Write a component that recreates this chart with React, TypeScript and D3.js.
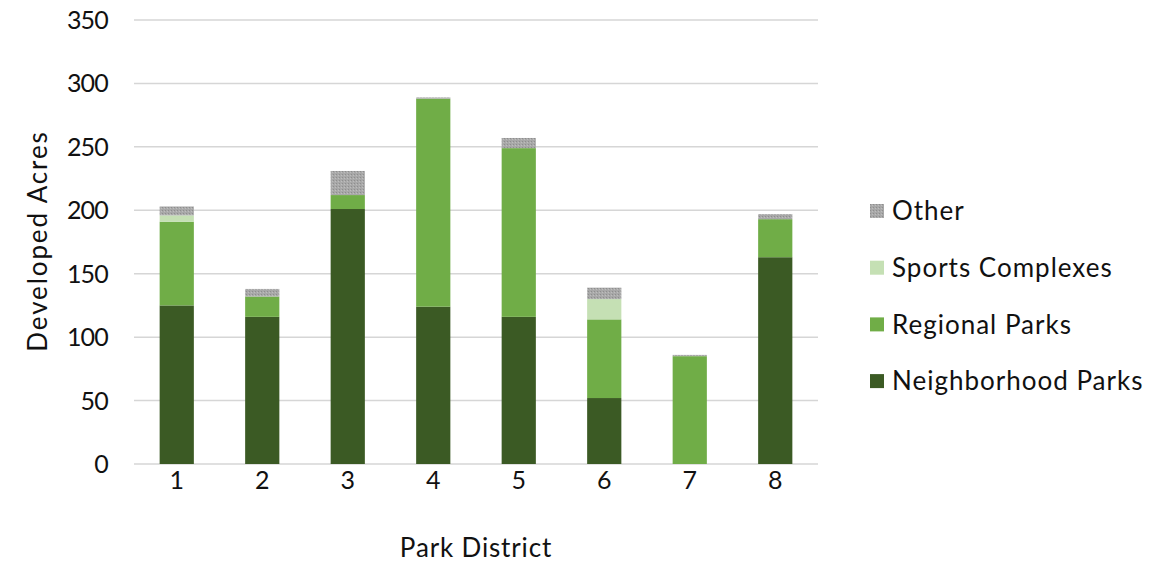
import React from "react";
import * as d3 from "d3";

const districts = ["1", "2", "3", "4", "5", "6", "7", "8"];
const neighborhood = [125, 116, 201, 124, 116, 52, 0, 163];
const regional = [66, 16, 11, 164, 133, 62, 85, 30];
const sports = [5, 0, 0, 0, 0, 16, 0, 0];
const other = [7, 6, 19, 1, 8, 9, 1, 4];
const seriesNames = ["Neighborhood Parks", "Regional Parks", "Sports Complexes", "Other"];
const seriesColors = ["#3B5A24", "#70AD47", "#C5E0B4", "#A5A5A5"];
const yTicks = [0, 50, 100, 150, 200, 250, 300, 350];

const W = 1153;
const H = 563;
const left = 134;
const right = 818;
const top = 20;
const bottom = 464;
const FONT = "'Lato', 'Open Sans', sans-serif";

export default function App() {
  const x = d3.scaleBand<string>().domain(districts).range([left, right]).paddingInner(0.6).paddingOuter(0.3);
  const y = d3.scaleLinear().domain([0, 350]).range([bottom, top]);
  const rows = districts.map((d, i) => ({
    d,
    v: [neighborhood[i], regional[i], sports[i], other[i]],
  }));
  const stack = d3.stack<any, number>().keys([0, 1, 2, 3] as any).value((r: any, k: any) => r.v[k]);
  const layers = stack(rows as any);

  return (
    <svg width={W} height={H} style={{ position: "absolute", left: 0, top: 0, background: "#fff" }}>
      <defs>
        <pattern id="dots" width="3" height="3" patternUnits="userSpaceOnUse">
          <rect width="3" height="3" fill="#A8A8A8" />
          <rect x="0" y="0" width="1" height="1" fill="#8E8E8E" />
          <rect x="2" y="1" width="1" height="1" fill="#BDBDBD" />
        </pattern>
      </defs>
      {yTicks.map((t) => (
        <g key={t}>
          <line x1={left} x2={right} y1={y(t)} y2={y(t)} stroke="#D6D6D6" strokeWidth={1.5} />
          <text x={108} y={y(t)} dy="0.36em" textAnchor="end" fontFamily={FONT} fontSize={25} letterSpacing={-0.8} fill="#111">
            {t}
          </text>
        </g>
      ))}
      {layers.map((layer, li) =>
        layer.map((seg, i) => {
          const h = y(seg[0]) - y(seg[1]);
          if (h <= 0) return null;
          return (
            <rect
              key={li + "-" + i}
              x={x(districts[i])}
              y={y(seg[1])}
              width={x.bandwidth()}
              height={h}
              fill={li === 3 ? "url(#dots)" : seriesColors[li]}
            />
          );
        })
      )}
      {districts.map((d) => (
        <text key={d} x={(x(d) as number) + x.bandwidth() / 2} y={489} textAnchor="middle" fontFamily={FONT} fontSize={25} fill="#111">
          {d}
        </text>
      ))}
      <text x={476} y={557} textAnchor="middle" fontFamily={FONT} fontSize={26} letterSpacing={0.85} fill="#111">
        Park District
      </text>
      <text transform={`translate(47,241) rotate(-90)`} textAnchor="middle" fontFamily={FONT} fontSize={26} letterSpacing={1.9} fill="#111">
        Developed Acres
      </text>
      {[3, 2, 1, 0].map((si, idx) => {
        const cy = 211 + idx * 56.7;
        return (
          <g key={si}>
            <rect x={870} y={cy - 7} width={14} height={14} fill={si === 3 ? "url(#dots)" : seriesColors[si]} />
            <text x={892} y={cy} dy="0.36em" fontFamily={FONT} fontSize={26} letterSpacing={1} fill="#111">
              {seriesNames[si]}
            </text>
          </g>
        );
      })}
    </svg>
  );
}
